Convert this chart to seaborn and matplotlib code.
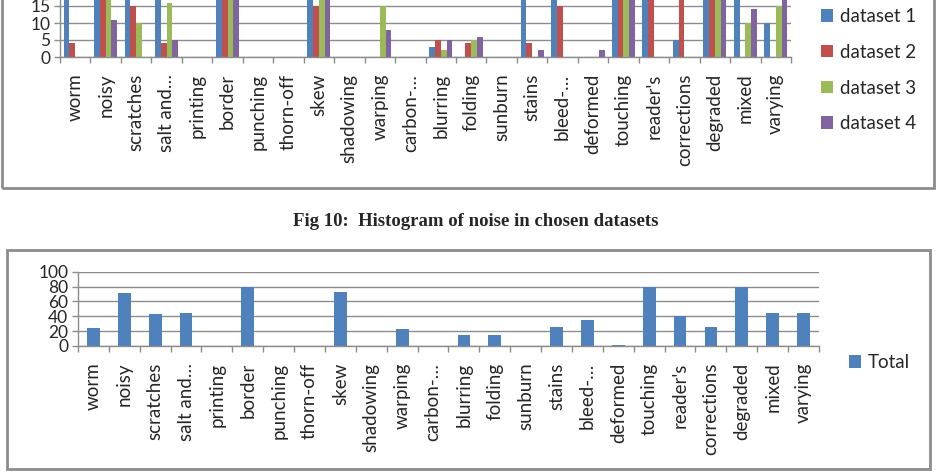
import matplotlib
matplotlib.use("Agg")
import matplotlib.pyplot as plt
import matplotlib.patches as mpatches
import numpy as np
import pandas as pd
import seaborn as sns

# -----------------------------------
# Data
# -----------------------------------
categories = ["worm", "noisy", "scratches", "salt and…", "printing", "border",
              "punching", "thorn-off", "skew", "shadowing", "warping", "carbon-…",
              "blurring", "folding", "sunburn", "stains", "bleed-…", "deformed",
              "touching", "reader's", "corrections", "degraded", "mixed", "varying"]

dataset1 = [20, 20, 18, 20, 0, 20, 0, 0, 20, 0, 0, 0, 3, 0, 0, 20, 20, 0, 20, 20, 5, 20, 20, 10]
dataset2 = [4, 20, 15, 4, 0, 20, 0, 0, 15, 0, 0, 0, 5, 4, 0, 4, 15, 0, 20, 20, 20, 20, 0, 0]
dataset3 = [0, 20, 10, 16, 0, 20, 0, 0, 20, 0, 15, 0, 2, 5, 0, 0, 0, 0, 20, 0, 0, 20, 10, 15]
dataset4 = [0, 11, 0, 5, 0, 20, 0, 0, 18, 0, 8, 0, 5, 6, 0, 2, 0, 2, 20, 0, 0, 20, 14, 20]

totals = [24, 71, 43, 45, 0, 80, 0, 0, 73, 0, 23, 0, 15, 15, 0, 26, 35, 2, 80, 40, 25, 80, 44, 45]

series_names = ["dataset 1", "dataset 2", "dataset 3", "dataset 4"]
series_colors = ["#4F81BD", "#C0504D", "#9BBB59", "#8064A2"]

# -----------------------------------
# Style
# -----------------------------------
sns.set_theme(style="white")
plt.rcParams["font.family"] = ["Lato", "DejaVu Sans"]
GRID = "#8c8c8c"
XLABEL_SIZE = 13.5
YLABEL_SIZE = 12.5

W, H = 937, 472
fig = plt.figure(figsize=(W / 100, H / 100), dpi=100)
fig.patch.set_facecolor("white")


def px_axes(left, right, y0, y_top):
    # pixel box (top-left origin) -> figure fraction axes
    return fig.add_axes([left / W, 1 - y0 / H, (right - left) / W, (y0 - y_top) / H])


def style_axis(ax):
    ax.set_xlabel("")
    ax.set_ylabel("")
    ax.set_facecolor("none")
    for side in ["top", "right"]:
        ax.spines[side].set_visible(False)
    for side in ["left", "bottom"]:
        ax.spines[side].set_color(GRID)
        ax.spines[side].set_linewidth(1)
    ax.yaxis.grid(True, color=GRID, linewidth=1)
    ax.set_axisbelow(True)
    ax.set_xlim(-0.5, len(categories) - 0.5)
    ax.set_xticks(range(len(categories)))
    ax.set_xticklabels(categories, rotation=90, va="top", ha="center", fontsize=XLABEL_SIZE)
    ax.set_xticks(np.arange(-0.5, len(categories), 1), minor=True)
    ax.tick_params(axis="x", which="major", length=0, pad=12)
    ax.tick_params(axis="x", which="minor", length=4, width=1, color=GRID, bottom=True)
    ax.tick_params(axis="y", which="major", length=4, width=1, color=GRID, left=True,
                   labelsize=YLABEL_SIZE, pad=3)


# -----------------------------------
# Top chart: per-dataset noise counts (cut off at the top)
# -----------------------------------
long_df = pd.DataFrame({
    "category": categories * 4,
    "dataset": sum([[n] * len(categories) for n in series_names], []),
    "value": dataset1 + dataset2 + dataset3 + dataset4,
})

ax1 = px_axes(60, 791, 57, 57 - 85)
sns.barplot(data=long_df, x="category", y="value", hue="dataset", order=categories,
            hue_order=series_names, palette=series_colors, saturation=1,
            width=0.76, gap=0, linewidth=0, ax=ax1)
ax1.set_ylim(0, 25)
ax1.set_yticks([0, 5, 10, 15])
style_axis(ax1)

h, l = ax1.get_legend_handles_labels()
ax1.get_legend().remove()
fig.legend(h, l, loc="upper left", bbox_to_anchor=(821 / W, 1 - 8 / H), frameon=False,
           fontsize=13.5, handlelength=0.65, handleheight=0.65, handletextpad=0.35,
           labelspacing=1.0, borderpad=0, borderaxespad=0)

# -----------------------------------
# Bottom chart: totals
# -----------------------------------
total_df = pd.DataFrame({"category": categories, "Total": totals})

ax2 = px_axes(78, 819, 346, 271.7)
sns.barplot(data=total_df, x="category", y="Total", order=categories,
            color=series_colors[0], saturation=1, width=0.41, linewidth=0,
            label="Total", ax=ax2)
ax2.set_ylim(0, 100)
ax2.set_yticks(range(0, 101, 20))
style_axis(ax2)

h2, l2 = ax2.get_legend_handles_labels()
if ax2.get_legend() is not None:
    ax2.get_legend().remove()
fig.legend(h2, l2, loc="upper left", bbox_to_anchor=(849 / W, 1 - 354 / H), frameon=False,
           fontsize=13.5, handlelength=0.65, handleheight=0.65, handletextpad=0.35,
           borderpad=0, borderaxespad=0)

# -----------------------------------
# Chart frames and caption
# -----------------------------------
fig.patches.append(mpatches.Rectangle((2 / W, 1 - 188 / H), 932 / W, 200 / H,
                                      transform=fig.transFigure, fill=False,
                                      edgecolor=GRID, linewidth=2))
fig.patches.append(mpatches.Rectangle((7 / W, 1 - 469 / H), 923 / W, 219 / H,
                                      transform=fig.transFigure, fill=False,
                                      edgecolor=GRID, linewidth=2))

fig.text(476 / W, 1 - 221 / H, "Fig 10:  Histogram of noise in chosen datasets",
         ha="center", va="center", fontsize=13.5, fontweight="bold",
         family=["Liberation Serif", "DejaVu Serif"])

fig.savefig("out.png", dpi=100)
